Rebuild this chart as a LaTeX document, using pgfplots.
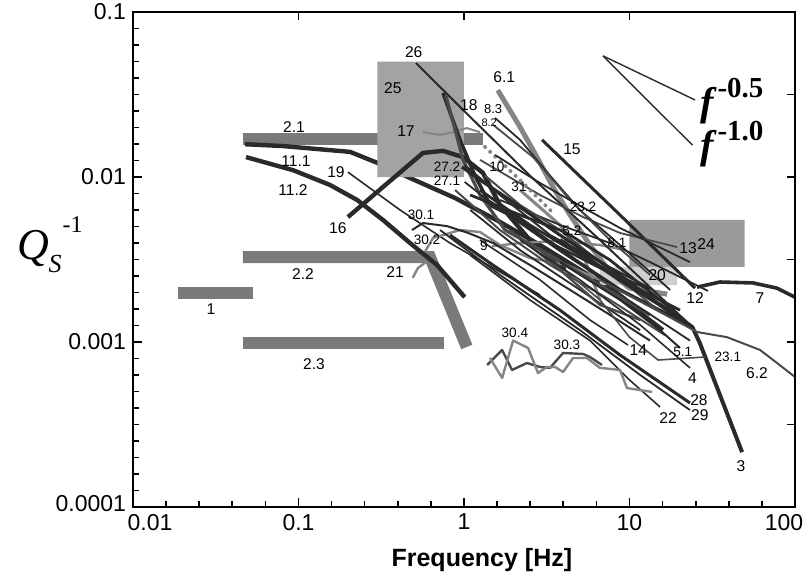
\documentclass[border=0pt]{standalone}
\usepackage{pgfplots}
\pgfplotsset{compat=1.18}
\usepackage{fontspec}
\setmainfont{Liberation Sans}
\newfontfamily\tnr{Liberation Serif}
\usetikzlibrary{calc}
\definecolor{dk}{HTML}{2A2A2A}
\definecolor{md}{HTML}{4A4A4A}
\definecolor{gr}{HTML}{858585}
\definecolor{barc}{HTML}{7A7A7A}
\definecolor{boxa}{HTML}{A3A3A3}
\definecolor{boxb}{HTML}{9A9A9A}
\definecolor{boxc}{HTML}{CFCFCF}
\begin{document}
\begin{tikzpicture}
\begin{axis}[name=ax, scale only axis, width=331pt, height=247.5pt,
  xmode=log, ymode=log, xmin=0.01, xmax=100, ymin=0.0001, ymax=0.1,
  clip=false,
  axis line style={line width=1pt},
  xtick={0.01,0.1,1,10,100}, xticklabels={\hspace*{17pt}0.01,0.1,1,10,100\hspace*{11pt}},
  ytick={0.0001,0.001,0.01,0.1}, yticklabels={\raisebox{3.5pt}{0.0001},0.001,0.01,0.1},
  minor xtick={0.01585,0.02512,0.03981,0.0631,0.1585,0.2512,0.3981,0.631,1.585,2.512,3.981,6.31,15.85,25.12,39.81,63.1},
  minor ytick={0.0001259,0.0001585,0.0001995,0.0002512,0.0003162,0.0003981,0.0005012,0.000631,0.0007943,
    0.001259,0.001585,0.001995,0.002512,0.003162,0.003981,0.005012,0.00631,0.007943,
    0.01259,0.01585,0.01995,0.02512,0.03162,0.03981,0.05012,0.0631,0.07943},
  tick align=inside, xtick pos=left, ytick pos=left,
  major tick length=4.5pt, minor tick length=3pt,
  tick style={line width=0.8pt, black},
  ticklabel style={font=\fontsize{11.5}{12}\selectfont},
  every axis plot/.append style={line join=round},
]
% bars
\addplot[barc, line width=6pt] coordinates {(0.0462,0.017) (1.30,0.017)};
\addplot[barc, line width=6pt] coordinates {(0.0187,0.00198) (0.0531,0.00198)};
\addplot[barc, line width=6pt, line join=miter] coordinates {(0.0462,0.00327) (0.623,0.00327) (1.04,0.000933)};
\addplot[barc, line width=6pt] coordinates {(0.0462,0.000986) (0.757,0.000986)};
% 11.1 (under box 25)
\addplot[dk, line width=2.2pt] coordinates {(0.0475,0.0158) (0.0806,0.0154) (0.205,0.0142) (0.311,0.0120) (0.472,0.00986) (0.883,0.00746) (1.65,0.00534) (2.88,0.00387) (6.63,0.00231) (15.9,0.00118)};
% boxes
\addplot[fill=boxa, draw=none] coordinates {(0.3,0.01) (1,0.01) (1,0.05) (0.3,0.05) (0.3,0.01)};
\addplot[fill=boxb, draw=none] coordinates {(10,0.00285) (49.7,0.00285) (49.7,0.00549) (10,0.00549) (10,0.00285)};
\addplot[fill=boxc, draw=none] coordinates {(6.6,0.00221) (19.4,0.00221) (19.4,0.00285) (6.6,0.00285) (6.6,0.00221)};
% lines
\addplot[dk, line width=2.2pt] coordinates {(0.0482,0.0132) (0.0927,0.0110) (0.155,0.00895) (0.226,0.00726) (0.324,0.00549) (0.472,0.00398) (0.687,0.00293) (1.01,0.00187)};
\addplot[dk, line width=2.2pt] coordinates {(0.199,0.00572) (0.324,0.0087) (0.565,0.0140) (0.747,0.0144) (0.987,0.0132) (1.30,0.0106) (1.65,0.00677) (2.50,0.00415) (4.08,0.00274)};
\addplot[gr, line width=1pt] coordinates {(0.565,0.0187) (0.717,0.0180) (0.858,0.0187) (1.04,0.0198) (1.25,0.0187)};
\addplot[dk, line width=0.8pt] coordinates {(0.199,0.0107) (0.411,0.00631) (0.823,0.00398) (1.65,0.00266) (2.88,0.00193)};
\addplot[gr, line width=1.2pt] coordinates {(0.580,0.00351) (0.650,0.00427) (0.946,0.00477) (1.25,0.00464) (1.65,0.00387) (2.50,0.00323) (4.19,0.00293) (6.63,0.00238)};
\addplot[gr, line width=1.2pt] coordinates {(1.48,0.00381) (2.18,0.00398) (3.80,0.0041) (6.63,0.00387) (9.39,0.00361)};
\addplot[gr, line width=1.2pt] coordinates {(0.490,0.00245) (0.527,0.00281) (0.589,0.00305)};
\addplot[dk, line width=1pt] coordinates {(0.485,0.00477) (0.565,0.00526) (0.790,0.00504) (1.06,0.00458) (1.50,0.00398) (2.50,0.00293) (4.37,0.00207) (7.62,0.00146) (13.3,0.00102)};
\addplot[gr, line width=2.5pt] coordinates {(1.60,0.0336) (2.18,0.0201) (2.76,0.0132) (3.45,0.0087) (4.37,0.00589) (5.77,0.00387) (7.62,0.00266) (10.0,0.00212) (16.9,0.00195)};
\addplot[gr, line width=1.5pt] coordinates {(2.18,0.00834) (3.80,0.00512) (5.38,0.00314) (6.63,0.0018)};
\addplot[dk, line width=1pt] coordinates {(0.513,0.0491) (0.987,0.0255) (2.50,0.0102) (6.63,0.00415) (24.0,0.00123)};
\addplot[dk, line width=1.8pt] coordinates {(0.747,0.0323) (0.946,0.0168) (1.165,0.0102) (1.436,0.00677) (1.896,0.00589) (3.80,0.00361) (8.76,0.00207) (24.0,0.00123)};
\addplot[md, line width=1.6pt] coordinates {(0.779,0.0310) (0.987,0.0127) (1.25,0.00778) (1.77,0.00477) (3.31,0.00336) (6.63,0.00221) (13.3,0.00146)};
\addplot[dk, line width=1.5pt] coordinates {(2.96,0.0168) (8.76,0.00589) (24.9,0.00212)};
\addplot[dk, line width=1.8pt] coordinates {(25.6,0.00215) (35.2,0.00231) (55.8,0.00228) (77.9,0.00212) (100,0.00187)};
\addplot[md, line width=0.9pt] coordinates {(1.25,0.0127) (2.88,0.00778) (5.24,0.00572) (8.76,0.00458) (19.4,0.00376)};
\addplot[dk, line width=0.9pt] coordinates {(1.65,0.00726) (3.80,0.00512) (7.62,0.00398) (13.3,0.00305) (29.8,0.00204)};
\addplot[dk, line width=0.9pt] coordinates {(1.54,0.0228) (2.18,0.0168) (3.31,0.0102) (5.02,0.00631) (8.76,0.00387) (17.6,0.00207)};
\addplot[md, line width=0.9pt] coordinates {(1.50,0.0207) (2.61,0.0132) (4.37,0.00726) (7.62,0.00415) (13.3,0.00255)};
\addplot[md, line width=1pt] coordinates {(1.34,0.0102) (2.18,0.00677) (3.80,0.00477) (6.63,0.00305) (15.3,0.00152)};
\addplot[gr, line width=2pt, line cap=round, dash pattern=on 0pt off 3.5pt] coordinates {(1.34,0.0152) (2.18,0.00959) (3.55,0.00589)};
\addplot[dk, line width=1.6pt] coordinates {(0.973,0.0115) (1.25,0.00959) (1.896,0.00726) (3.80,0.00445) (8.76,0.00255) (20.2,0.00136)};
\addplot[dk, line width=0.9pt] coordinates {(1.01,0.00933) (1.34,0.00746) (2.18,0.00549) (4.37,0.00336) (9.80,0.00180) (23.2,0.00102)};
\addplot[dk, line width=0.9pt] coordinates {(1.54,0.0136) (2.88,0.0092) (4.67,0.00697) (8.76,0.00491) (23.2,0.00305)};
\addplot[dk, line width=1.4pt] coordinates {(1.09,0.00778) (2.18,0.00589) (4.08,0.00464) (7.62,0.00314) (15.3,0.00180) (24.0,0.00123)};
\addplot[dk, line width=0.9pt] coordinates {(1.09,0.00631) (2.18,0.00361) (5.02,0.00207) (11.6,0.00118)};
\addplot[md, line width=1pt] coordinates {(0.883,0.00834) (1.65,0.00477) (3.31,0.00293) (7.62,0.0018) (16.4,0.0011)};
\addplot[dk, line width=1.2pt] coordinates {(1.77,0.00631) (3.09,0.00415) (6.63,0.00281) (13.3,0.00207)};
\addplot[dk, line width=1.4pt] coordinates {(1.25,0.00834) (2.50,0.00512) (5.02,0.00336) (11.6,0.00207) (20.2,0.00156)};
\addplot[dk, line width=1pt] coordinates {(1.01,0.0118) (1.65,0.00778) (3.31,0.00445) (6.63,0.00305) (13.3,0.00212)};
\addplot[md, line width=1.2pt] coordinates {(1.896,0.00477) (3.80,0.00274) (6.63,0.00168) (11.6,0.00136)};
\addplot[dk, line width=2pt] coordinates {(3.80,0.00415) (8.76,0.00238) (15.3,0.00168) (24.0,0.00123) (26.6,0.000986) (47.9,0.000215)};
\addplot[md, line width=1pt] coordinates {(6.63,0.00238) (15.3,0.00152) (25.6,0.00115) (38.8,0.00107) (61.5,0.000895) (77.9,0.000746) (100,0.000614)};
\addplot[md, line width=0.8pt] coordinates {(2.88,0.00361) (6.63,0.00180) (10.0,0.00107) (14.9,0.000778) (28.6,0.000811)};
\addplot[dk, line width=1pt] coordinates {(3.80,0.00305) (8.76,0.00180) (15.3,0.00118) (20.2,0.00092)};
\addplot[dk, line width=0.8pt] coordinates {(2.18,0.00415) (5.02,0.00238) (11.6,0.00127) (23.2,0.000697)};
\addplot[dk, line width=0.8pt] coordinates {(1.25,0.00415) (2.88,0.00238) (5.77,0.00136) (9.80,0.000959)};
\addplot[dk, line width=1.5pt] coordinates {(0.823,0.00445) (1.436,0.00301) (3.80,0.00156) (8.76,0.000834) (23.2,0.000427)};
\addplot[dk, line width=0.9pt] coordinates {(0.717,0.00477) (1.65,0.00255) (5.02,0.00118) (11.6,0.000631) (23.2,0.000387)};
\addplot[dk, line width=0.8pt] coordinates {(1.09,0.00336) (2.50,0.00180) (5.77,0.00102) (10.0,0.000589) (15.3,0.000404)};
\addplot[md, line width=1.2pt] coordinates {(1.38,0.000726) (1.70,0.000895) (1.95,0.000677) (2.40,0.000746) (2.88,0.000706) (3.31,0.000697) (3.97,0.000858) (5.24,0.000846) (5.77,0.000811) (6.82,0.000726)};
\addplot[gr, line width=1.2pt] coordinates {(1.436,0.0008) (1.70,0.000605) (1.98,0.00102) (2.44,0.00092) (2.80,0.000649) (3.17,0.000706) (3.55,0.000706) (3.97,0.000658) (4.56,0.0008) (5.53,0.0008) (6.63,0.000697) (8.76,0.000677) (9.66,0.000526) (13.7,0.000498)};
% slope guides
\addplot[dk, line width=0.7pt] coordinates {(6.92,0.0542) (24.9,0.0293)};
\addplot[dk, line width=0.7pt] coordinates {(6.92,0.0542) (24.0,0.0156)};
% labels
\begin{scope}[every node/.style={inner sep=0.3pt, text=black, font=\fontsize{7.8}{8}\selectfont}]
\node at (axis cs:0.497,0.0572) {26};
\node at (axis cs:0.372,0.0346) {25};
\node at (axis cs:1.07,0.0274) {18};
\node[font=\fontsize{6.5}{7}\selectfont] at (axis cs:1.50,0.0259) {8.3};
\node[font=\fontsize{5.5}{6}\selectfont] at (axis cs:1.42,0.0212) {8.2};
\node at (axis cs:1.75,0.0404) {6.1};
\node at (axis cs:4.49,0.0148) {15};
\node at (axis cs:0.446,0.0189) {17};
\node at (axis cs:0.0939,0.0201) {2.1};
\node at (axis cs:0.0966,0.0125) {11.1};
\node at (axis cs:0.1685,0.0107) {19};
\node at (axis cs:0.0927,0.00834) {11.2};
\node at (axis cs:0.173,0.00491) {16};
\node[font=\fontsize{6.8}{7}\selectfont] at (axis cs:0.790,0.0115) {27.2};
\node[font=\fontsize{6.8}{7}\selectfont] at (axis cs:0.790,0.00946) {27.1};
\node[font=\fontsize{6.8}{7}\selectfont] at (axis cs:1.58,0.0115) {10};
\node[font=\fontsize{6.8}{7}\selectfont] at (axis cs:2.15,0.0087) {31};
\node[font=\fontsize{6.8}{7}\selectfont] at (axis cs:5.24,0.00658) {23.2};
\node[font=\fontsize{6.8}{7}\selectfont] at (axis cs:4.49,0.0047) {5.2};
\node[font=\fontsize{6.8}{7}\selectfont] at (axis cs:8.41,0.00398) {8.1};
\node at (axis cs:22.6,0.00371) {13};
\node at (axis cs:29.0,0.00393) {24};
\node at (axis cs:14.7,0.00255) {20};
\node at (axis cs:24.9,0.00185) {12};
\node at (axis cs:61.5,0.00185) {7};
\node[font=\fontsize{6.8}{7}\selectfont] at (axis cs:0.550,0.00589) {30.1};
\node[font=\fontsize{6.8}{7}\selectfont] at (axis cs:0.598,0.00415) {30.2};
\node at (axis cs:0.383,0.00266) {21};
\node[font=\fontsize{6.8}{7}\selectfont] at (axis cs:1.32,0.00381) {9};
\node at (axis cs:0.1065,0.00259) {2.2};
\node at (axis cs:0.0296,0.00158) {1};
\node at (axis cs:0.124,0.000736) {2.3};
\node[font=\fontsize{6.8}{7}\selectfont] at (axis cs:2.03,0.00113) {30.4};
\node[font=\fontsize{6.8}{7}\selectfont] at (axis cs:4.19,0.000959) {30.3};
\node at (axis cs:11.3,0.000895) {14};
\node[font=\fontsize{6.8}{7}\selectfont] at (axis cs:21.0,0.00087) {5.1};
\node[font=\fontsize{6.8}{7}\selectfont] at (axis cs:39.3,0.000811) {23.1};
\node at (axis cs:24.0,0.000605) {4};
\node at (axis cs:58.9,0.000649) {6.2};
\node at (axis cs:26.3,0.000445) {28};
\node at (axis cs:26.6,0.000361) {29};
\node at (axis cs:17.1,0.000346) {22};
\node at (axis cs:47.2,0.000177) {3};
\end{scope}
\node[anchor=west, inner sep=0pt] at (axis cs:26.6,0.0287) {\tnr\bfseries\itshape\fontsize{20}{20}\selectfont f\kern2pt\raisebox{0.45em}{\upshape\fontsize{14.5}{14.5}\selectfont -0.5}};
\node[anchor=west, inner sep=0pt] at (axis cs:26.6,0.0159) {\tnr\bfseries\itshape\fontsize{20}{20}\selectfont f\kern2pt\raisebox{0.45em}{\upshape\fontsize{14.5}{14.5}\selectfont -1.0}};
\node[font=\bfseries\fontsize{12.5}{13}\selectfont] at (rel axis cs:0.527,-0.107) {Frequency [Hz]};
\node at (rel axis cs:-0.125,0.53) {\tnr\itshape\fontsize{22}{22}\selectfont Q\kern-0.5pt\raisebox{-0.3em}{\fontsize{13}{13}\selectfont S}\kern0.5pt\raisebox{0.6em}{\upshape\fontsize{12}{12}\selectfont -1}};
\end{axis}
\begin{axis}[scale only axis, width=331pt, height=247.5pt,
  xmode=log, ymode=log, xmin=0.01, xmax=100, ymin=0.0001, ymax=0.1,
  axis line style={line width=1pt},
  xtick={0.1,1,10}, ytick={0.000316,0.001,0.00316,0.01,0.0316},
  xticklabels={}, yticklabels={},
  xminorticks=false, yminorticks=false,
  tick align=inside, xtick pos=right, ytick pos=right,
  major tick length=4pt, tick style={line width=0.8pt, black}]
\end{axis}
\pgfresetboundingbox
\path[use as bounding box] ($(ax.south west)+(-66.5pt,-38pt)$) rectangle ($(ax.north east)+(4.5pt,6pt)$);
\end{tikzpicture}
\end{document}
